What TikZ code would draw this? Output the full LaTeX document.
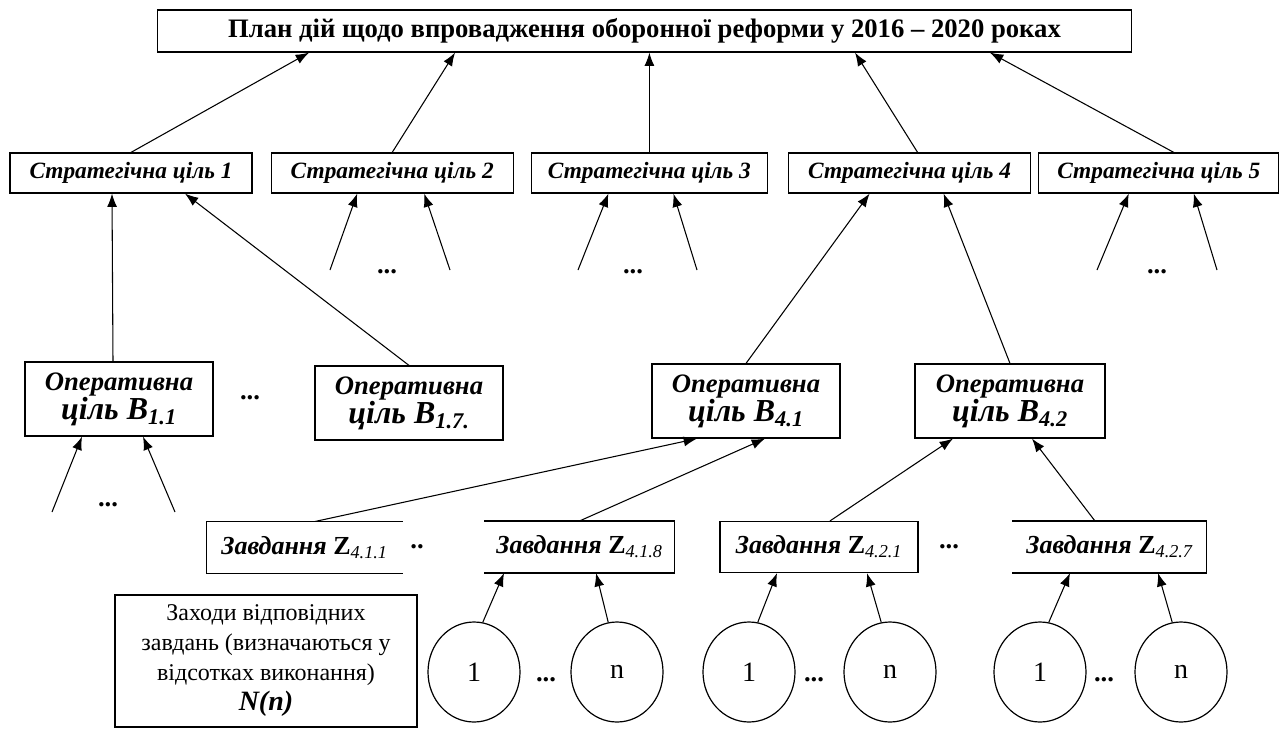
\documentclass[tikz,border=0pt]{standalone}
\usepackage{fontspec}
\setmainfont{Liberation Serif}
\usetikzlibrary{positioning,shapes.geometric,arrows.meta}

\begin{document}
\begin{tikzpicture}[x=0.75pt, y=-0.75pt, line width=0.8pt,
	plan/.style={rectangle, draw, line width=0.9pt, minimum width=731pt, minimum height=31.5pt, font=\fontsize{20}{22}\selectfont\bfseries},
	strat/.style={rectangle, draw, line width=0.9pt, minimum width=181.5pt, minimum height=30pt, inner sep=0pt, font=\fontsize{17.5}{20}\selectfont\bfseries\itshape},
	oper/.style={rectangle, draw, line width=0.9pt, minimum width=141pt, minimum height=55.5pt, inner sep=0pt, align=center, font=\bfseries\itshape},
	task/.style={rectangle, minimum height=38.25pt, inner sep=0pt, font=\fontsize{19.5}{22}\selectfont\bfseries\itshape},
	meas/.style={ellipse, draw, line width=0.9pt, minimum width=69pt, minimum height=75pt, inner sep=0pt, font=\fontsize{21}{24}\selectfont},
	note/.style={rectangle, draw, line width=0.9pt, minimum width=226.5pt, minimum height=99pt, inner sep=0pt, align=center, font=\fontsize{18}{22.5}\selectfont},
	dots/.style={inner sep=0pt, font=\fontsize{20}{20}\selectfont\bfseries},
	arr/.style={-{Latex[length=10pt,width=7.5pt]}}
]
	\useasboundingbox (0,0) rectangle (1283,729);

	% plan
	\node[plan] (plan) at (644.5,31) {План дій щодо впровадження оборонної реформи у 2016 – 2020 роках};

	% strategic goals
	\node[strat] (s1) at (131,173) {Стратегічна ціль 1};
	\node[strat, right=13.5pt of s1] (s2) {Стратегічна ціль 2};
	\node[strat, right=12.75pt of s2, minimum width=177pt] (s3) {Стратегічна ціль 3};
	\node[strat, right=15pt of s3] (s4) {Стратегічна ціль 4};
	\node[strat, right=5.25pt of s4, minimum width=180pt] (s5) {Стратегічна ціль 5};

	\draw[arr] (s1.north) -- ([xshift=-251.6pt]plan.south);
	\draw[arr] (s2.north) -- ([xshift=-142.1pt]plan.south);
	\draw[arr] (s3.north) -- (s3.north |- plan.south);
	\draw[arr] ([xshift=6pt]s4.north) -- ([xshift=157.9pt]plan.south);
	\draw[arr] ([xshift=11.25pt]s5.north) -- ([xshift=259.1pt]plan.south);

	% operational goals
	\node[oper] (b11) at (119,399) {{\fontsize{20}{24}\selectfont Оперативна}\\{\fontsize{24}{24}\selectfont ціль B\textsubscript{1.1}}};
	\node[dots] (d1) at (250,398) {...};
	\node[oper] (b17) at (409,403) {{\fontsize{20}{24}\selectfont Оперативна}\\{\fontsize{24}{24}\selectfont ціль B\textsubscript{1.7.}}};
	\node[oper] (b41) at (746,401) {{\fontsize{20}{24}\selectfont Оперативна}\\{\fontsize{24}{24}\selectfont ціль B\textsubscript{4.1}}};
	\node[oper, minimum width=142.5pt] (b42) at (1010,401) {{\fontsize{20}{24}\selectfont Оперативна}\\{\fontsize{24}{24}\selectfont ціль B\textsubscript{4.2}}};

	\draw[arr] ([xshift=-4.5pt]b11.north) -- ([xshift=-14.25pt]s1.south);
	\draw[arr] (b17.north) -- ([xshift=40.5pt]s1.south);
	\draw[arr] (b41.north) -- ([xshift=-30pt]s4.south);
	\draw[arr] (b42.north) -- ([xshift=25.5pt]s4.south);

	% open branches
	\coordinate (e21) at (330,270);
	\coordinate (e22) at (450,270);
	\coordinate (e31) at (578,270);
	\coordinate (e32) at (697,270);
	\coordinate (e51) at (1097,270);
	\coordinate (e52) at (1217,270);
	\coordinate (e11) at (52,512);
	\coordinate (e12) at (175,512);
	\node[dots] (d2) at (387,272) {...};
	\node[dots] (d3) at (633,272) {...};
	\node[dots] (d4) at (1157,272) {...};
	\node[dots] (d5) at (108,505) {...};

	\draw[arr] (e21) -- ([xshift=-26.25pt]s2.south);
	\draw[arr] (e22) -- ([xshift=24pt]s2.south);
	\draw[arr] (e31) -- ([xshift=-30.75pt]s3.south);
	\draw[arr] (e32) -- ([xshift=18pt]s3.south);
	\draw[arr] (e51) -- ([xshift=-22.5pt]s5.south);
	\draw[arr] (e52) -- ([xshift=26.25pt]s5.south);
	\draw[arr] (e11) -- ([xshift=-27.75pt]b11.south);
	\draw[arr] (e12) -- ([xshift=18pt]b11.south);

	% tasks
	\node[task, minimum width=146.25pt] (z411) at (304.5,547.5) {Завдання {\upshape Z}\textsubscript{\mdseries 4.1.1}};
	\node[dots] (d6) at (417,547) {..};
	\node[task, minimum width=141.75pt] (z418) at (579.5,547) {Завдання {\upshape Z}\textsubscript{\mdseries 4.1.8}};
	\node[task, draw, line width=0.9pt, minimum width=148.5pt] (z421) at (819,547) {Завдання {\upshape Z}\textsubscript{\mdseries 4.2.1}};
	\node[dots] (d7) at (949,547) {...};
	\node[task, minimum width=144.75pt] (z427) at (1109.5,547) {Завдання {\upshape Z}\textsubscript{\mdseries 4.2.7}};

	\draw[line width=0.9pt] (z411.north east) -- (z411.north west) -- (z411.south west) -- (z411.south east);
	\draw[line width=0.9pt] (z418.north west) -- (z418.north east) -- (z418.south east) -- (z418.south west);
	\draw[line width=0.9pt] (z427.north west) -- (z427.north east) -- (z427.south east) -- (z427.south west);

	\draw[arr] ([xshift=7.9pt]z411.north) -- ([xshift=-36.75pt]b41.south);
	\draw[arr] (z418.north) -- ([xshift=14.25pt]b41.south);
	\draw[arr] ([xshift=8.25pt]z421.north) -- ([xshift=-42.75pt]b42.south);
	\draw[arr] ([xshift=-10.9pt]z427.north) -- ([xshift=16.5pt]b42.south);

	% measures
	\node[note] (note) at (266,661) {Заходи відповідних\\завдань (визначаються у\\відсотках виконання)\\{\fontsize{21}{22}\selectfont\bfseries\itshape N(n)}};

	\node[meas] (c1a) at (474,672) {1};
	\node[dots] (d8) at (546,680) {...};
	\node[meas] (c1b) at (617,672) {n};
	\node[meas] (c2a) at (749,672) {1};
	\node[dots] (d9) at (814,680) {...};
	\node[meas] (c2b) at (890,672) {n};
	\node[meas] (c3a) at (1040,672) {1};
	\node[dots] (d10) at (1104,680) {...};
	\node[meas] (c3b) at (1181,672) {n};

	\draw[arr] (c1a.80) -- ([xshift=-56.6pt]z418.south);
	\draw[arr] (c1b.100) -- ([xshift=12.4pt]z418.south);
	\draw[arr] (c2a.80) -- ([xshift=-31.5pt]z421.south);
	\draw[arr] (c2b.100) -- ([xshift=36pt]z421.south);
	\draw[arr] (c3a.80) -- ([xshift=-29.6pt]z427.south);
	\draw[arr] (c3b.100) -- ([xshift=36.4pt]z427.south);
\end{tikzpicture}
\end{document}
